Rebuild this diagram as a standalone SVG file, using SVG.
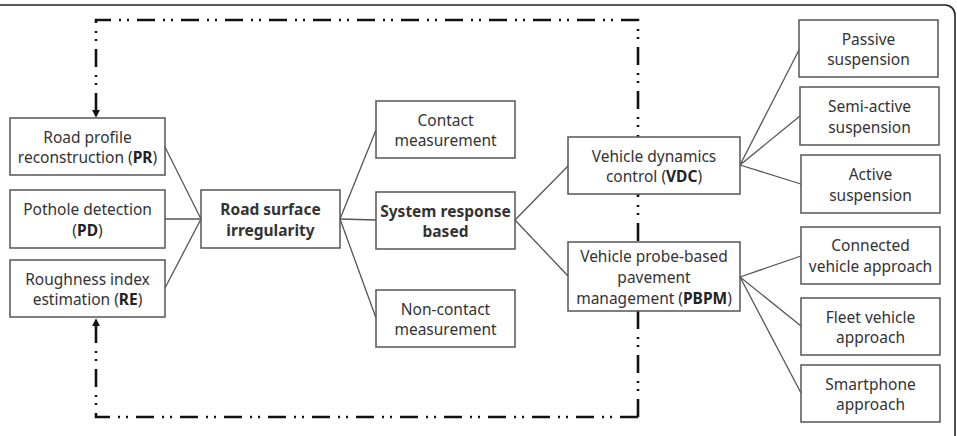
<svg xmlns="http://www.w3.org/2000/svg" width="957" height="436" viewBox="0 0 957 436">
<style>
.box rect{fill:#fff;stroke:#555;stroke-width:1.5}
.box text{font-family:"Noto Sans","Liberation Sans",sans-serif;font-size:15.5px;fill:#333;text-anchor:middle}
.b{font-weight:bold;fill:#222}
.con line{stroke:#555;stroke-width:1.3}
.dd{fill:none;stroke:#111;stroke-width:2.6;stroke-dasharray:18 8 2 6 2 8}
</style>
<defs>
<marker id="ah" viewBox="0 0 10 10" refX="9" refY="5" markerWidth="3" markerHeight="3" orient="auto-start-reverse" markerUnits="strokeWidth">
<path d="M0,0 L10,5 L0,10 Z" fill="#111"/>
</marker>
</defs>
<rect width="957" height="436" fill="#fff"/>
<path d="M0,5 H945 A10,10 0 0 1 955,15 V436" fill="none" stroke="#222" stroke-width="1.6"/>
<g id="feedback">
<path class="dd" d="M638,417 V20 H96 V117" marker-end="url(#ah)"/>
<path class="dd" d="M638,417 H96 V319" marker-end="url(#ah)"/>
</g>
<g class="con" id="connectors">
<line x1="165" y1="147" x2="201" y2="219"/>
<line x1="165" y1="219" x2="201" y2="219"/>
<line x1="165" y1="288" x2="201" y2="219"/>
<line x1="340" y1="219" x2="376" y2="130"/>
<line x1="340" y1="219" x2="376" y2="220"/>
<line x1="340" y1="219" x2="376" y2="318"/>
<line x1="515" y1="220" x2="568" y2="166"/>
<line x1="515" y1="220" x2="568" y2="276"/>
<line x1="740" y1="165" x2="799" y2="50"/>
<line x1="740" y1="165" x2="800" y2="116"/>
<line x1="740" y1="165" x2="801" y2="184"/>
<line x1="740" y1="277" x2="801" y2="256"/>
<line x1="740" y1="277" x2="801" y2="326"/>
<line x1="740" y1="277" x2="801" y2="393"/>
</g>
<g class="box" id="pr"><rect x="10" y="118" width="155" height="57"/><text x="87.5" y="142.5">Road profile</text><text x="87.5" y="163">reconstruction (<tspan class="b">PR</tspan>)</text></g>
<g class="box" id="pd"><rect x="10" y="190" width="155" height="58"/><text x="87.5" y="215">Pothole detection</text><text x="87.5" y="236">(<tspan class="b">PD</tspan>)</text></g>
<g class="box" id="re"><rect x="10" y="260" width="155" height="57"/><text x="87.5" y="284.5">Roughness index</text><text x="87.5" y="305">estimation (<tspan class="b">RE</tspan>)</text></g>
<g class="box" id="rsi"><rect x="201" y="190" width="139" height="58"/><text class="b" x="270.5" y="215">Road surface</text><text class="b" x="270.5" y="236">irregularity</text></g>
<g class="box" id="contact"><rect x="376" y="101" width="139" height="57"/><text x="445.5" y="125.5">Contact</text><text x="445.5" y="146">measurement</text></g>
<g class="box" id="srb"><rect x="376" y="192" width="139" height="57"/><text class="b" x="445.5" y="216.5">System response</text><text class="b" x="445.5" y="237">based</text></g>
<g class="box" id="noncontact"><rect x="376" y="290" width="139" height="57"/><text x="445.5" y="314.5">Non-contact</text><text x="445.5" y="335">measurement</text></g>
<g class="box" id="vdc"><rect x="568" y="137" width="172" height="57"/><text x="654" y="161.5">Vehicle dynamics</text><text x="654" y="182">control (<tspan class="b">VDC</tspan>)</text></g>
<g class="box" id="pbpm"><rect x="568" y="242" width="172" height="69"/><text x="654" y="262">Vehicle probe-based</text><text x="654" y="283">pavement</text><text x="654" y="303.5">management (<tspan class="b">PBPM</tspan>)</text></g>
<g class="box" id="passive"><rect x="799" y="20" width="139" height="57"/><text x="868.5" y="44.5">Passive</text><text x="868.5" y="65">suspension</text></g>
<g class="box" id="semiactive"><rect x="800" y="87" width="139" height="58"/><text x="869.5" y="112">Semi-active</text><text x="869.5" y="132.5">suspension</text></g>
<g class="box" id="active"><rect x="801" y="155" width="139" height="58"/><text x="870.5" y="180">Active</text><text x="870.5" y="200.5">suspension</text></g>
<g class="box" id="connected"><rect x="801" y="227" width="139" height="57"/><text x="870.5" y="251">Connected</text><text x="870.5" y="271.5">vehicle approach</text></g>
<g class="box" id="fleet"><rect x="801" y="298" width="139" height="57"/><text x="870.5" y="322.5">Fleet vehicle</text><text x="870.5" y="343">approach</text></g>
<g class="box" id="smartphone"><rect x="801" y="365" width="139" height="57"/><text x="870.5" y="389.5">Smartphone</text><text x="870.5" y="410">approach</text></g>
</svg>
